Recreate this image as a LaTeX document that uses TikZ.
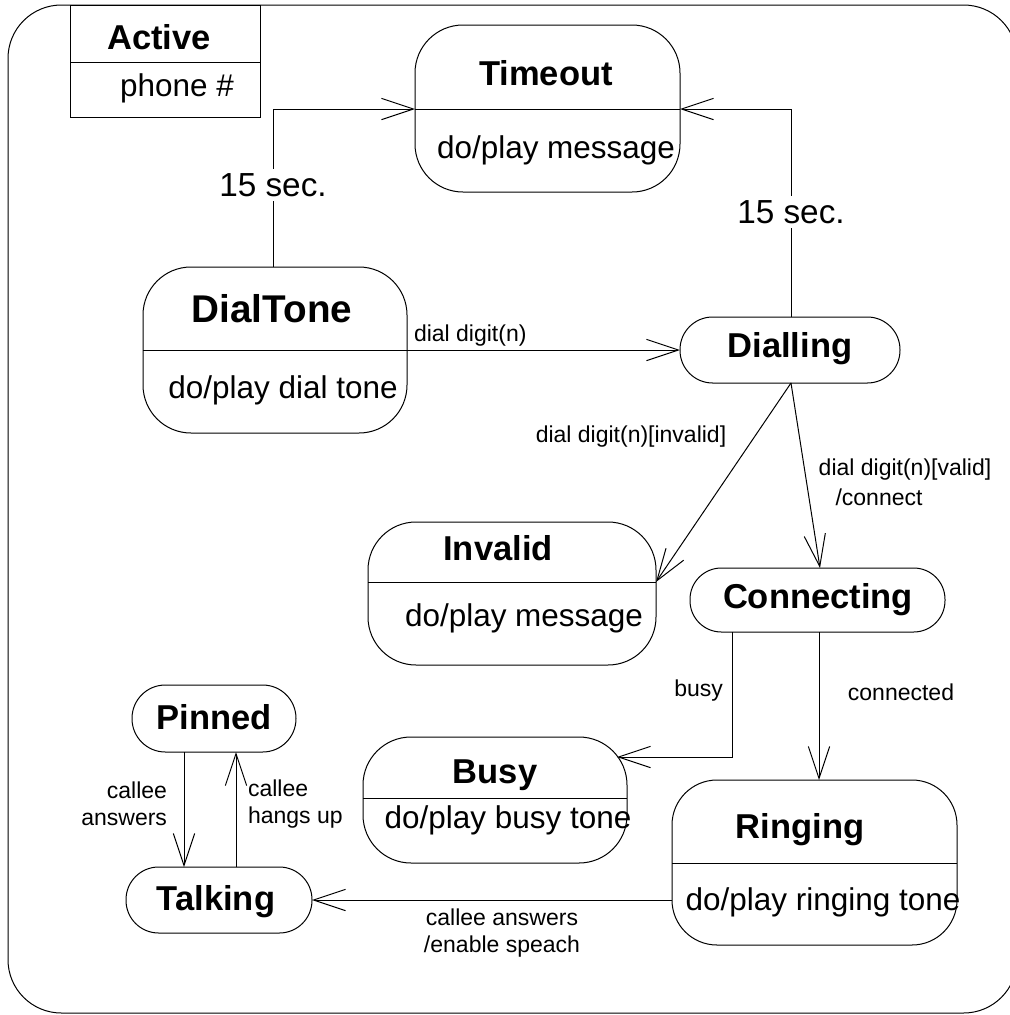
\documentclass[tikz,border=0pt]{standalone}
\usepackage{fontspec}
\setmainfont{Liberation Sans}
\usetikzlibrary{arrows.meta,calc}
\tikzset{
  every node/.style={inner sep=0pt, outer sep=0pt},
  state/.style={draw, line width=0.75pt},
  big/.style={state, rounded corners=36pt},
  arr/.style={line width=0.75pt, -{Straight Barb[length=24pt,width=16pt,line width=0.75pt]}},
  ttl/.style={font=\fontsize{25.9pt}{31pt}\selectfont\bfseries},
  bigttl/.style={font=\fontsize{29pt}{34pt}\selectfont\bfseries},
  body/.style={font=\fontsize{23.6pt}{28pt}\selectfont},
  lbl/.style={font=\fontsize{17.25pt}{20.25pt}\selectfont},
  secl/.style={font=\fontsize{25pt}{30pt}\selectfont, fill=white, inner sep=3pt},
  divl/.style={line width=0.75pt}
}
\begin{document}
\begin{tikzpicture}[x=0.75pt,y=-0.75pt]
\useasboundingbox (0,0) rectangle (1010,1015);
\clip (0,0) rectangle (1010,1015);
\fill[white] (0,0) rectangle (1010,1015);
% outer composite state frame
\draw[line width=0.75pt, rounded corners=40pt] (8,5) rectangle (1017,1013);

% Active box
\node[state, minimum width=142.5pt, minimum height=84pt] (active) at (165,61) {};
\draw[divl] (active.west |- 0,62) -- (active.east |- 0,62);
\node[ttl] (activet) at (159,37) {Active};
\node[body] (activeb) at (177,88) {phone \#};

% states
\node[big, minimum width=198.75pt, minimum height=125.25pt] (timeout) at (547.5,108.5) {};
\draw[divl] (timeout.west |- 0,109) -- (timeout.east |- 0,109);
\node[ttl] (timeoutt) at (546,73) {Timeout};
\node[body] (timeoutb) at (556,150) {do/play message};

\node[big, minimum width=198pt, minimum height=124.5pt] (dialtone) at (275,350) {};
\draw[divl] (dialtone.west |- 0,350) -- (dialtone.east |- 0,350);
\node[bigttl] (dialtonet) at (272,309) {DialTone};
\node[body] (dialtoneb) at (283,390) {do/play dial tone};

\node[state, rounded corners=24.5pt, minimum width=165pt, minimum height=49.5pt] (dialling) at (790,350) {};
\node[ttl] (diallingt) at (790,349) {Dialling};

\node[big, minimum width=216pt, minimum height=107.25pt] (invalid) at (512,593.5) {};
\draw[divl] (invalid.west |- 0,582) -- (invalid.east |- 0,582);
\node[ttl] (invalidt) at (498,548) {Invalid};
\node[body] (invalidb) at (524,618) {do/play message};

\node[state, rounded corners=23.5pt, minimum width=191.25pt, minimum height=48pt] (connecting) at (817.5,600) {};
\node[ttl] (connectingt) at (818,600) {Connecting};

\node[big, minimum width=198pt, minimum height=94.5pt] (busy) at (495,800) {};
\draw[divl] (busy.west |- 0,798) -- (busy.east |- 0,798);
\node[ttl] (busyt) at (495,775) {Busy};
\node[body] (busyb) at (508,820) {do/play busy tone};

\node[state, rounded corners=33.75pt, minimum width=213.75pt, minimum height=123.75pt] (ringing) at (814.5,862.5) {};
\draw[divl] (ringing.west |- 0,863) -- (ringing.east |- 0,863);
\node[ttl] (ringingt) at (800,830) {Ringing};
\node[body] (ringingb) at (823,902) {do/play ringing tone};

\node[state, rounded corners=25pt, minimum width=123pt, minimum height=50.25pt] (pinned) at (214,718.5) {};
\node[ttl] (pinnedt) at (214,717) {Pinned};

\node[state, rounded corners=24.5pt, minimum width=139.5pt, minimum height=49.5pt] (talking) at (219,900) {};
\node[ttl] (talkingt) at (216,902) {Talking};

% transitions
\draw[arr] (dialtone.north -| 273,0) |- (timeout.west |- 0,109);
\node[secl] (sec1) at (273,185) {15 sec.};

\draw[arr] (dialling.north -| 791,0) |- (timeout.east |- 0,109);
\node[secl] (sec2) at (791,212) {15 sec.};

\draw[arr] (dialtone.east) -- (dialling.west);
\node[lbl, anchor=south west] (ldd) at (414,346) {dial digit(n)};

\draw[arr] (dialling.south -| 791,0) -- (invalid.east |- 0,582);
\node[lbl] (linv) at (631,437) {dial digit(n)[invalid]};

\draw[arr] (dialling.south -| 791,0) -- (connecting.north -| 820,0);
\node[lbl] (lval) at (905,470) {dial digit(n)[valid]};
\node[lbl] (lcon) at (879,497) {/connect};

\draw[arr] (connecting.south -| 732,0) |- ($(busy.center)+(122,-43)$);
\node[lbl, anchor=east] (lbusy) at (723,691) {busy};

\draw[arr] (connecting.south -| 819,0) -- (ringing.north -| 819,0);
\node[lbl] (lconn) at (901,692) {connected};

\draw[arr] (ringing.west |- 0,900) -- (talking.east |- 0,900);
\node[lbl, align=center] (lans) at (502,933) {callee answers\\/enable speach};

\draw[arr] (pinned.south -| 184,0) -- (talking.north -| 184,0);
\node[lbl, align=right, anchor=east] (lpa) at (167,804) {callee\\answers};

\draw[arr] (talking.north -| 236,0) -- (pinned.south -| 236,0);
\node[lbl, align=left, anchor=west] (lph) at (248,804) {callee\\hangs up};
\end{tikzpicture}
\end{document}
